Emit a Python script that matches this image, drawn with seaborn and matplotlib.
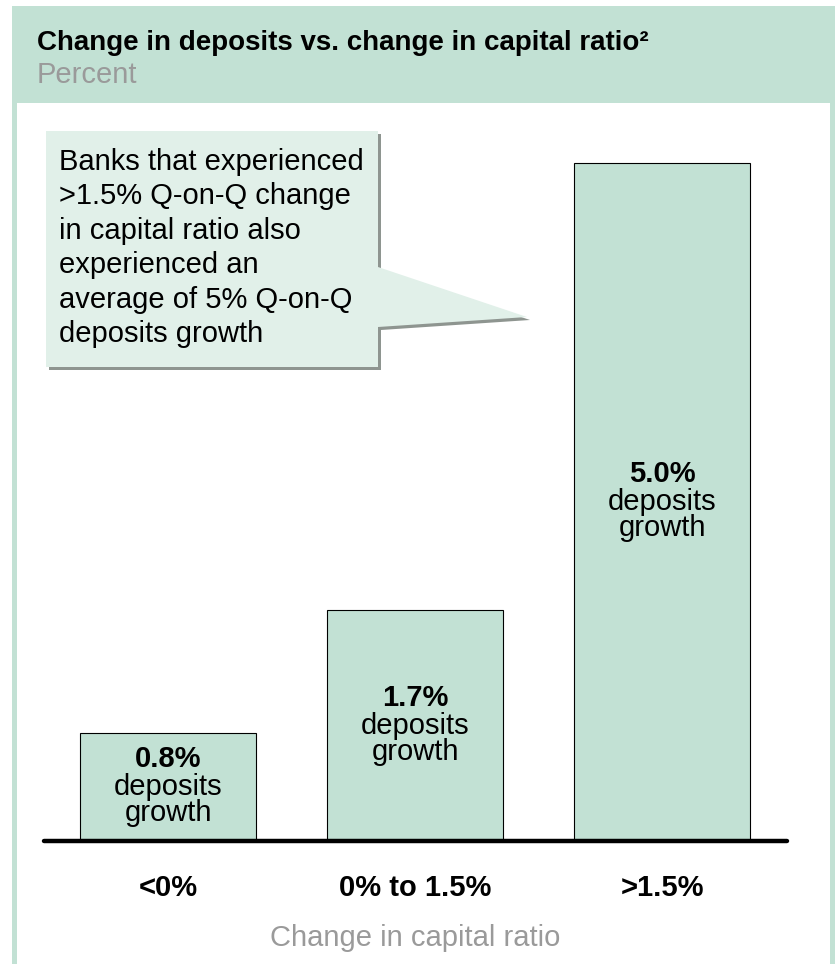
import matplotlib
matplotlib.use("Agg")
import matplotlib.pyplot as plt
from matplotlib.patches import Rectangle, Polygon
import seaborn as sns
import pandas as pd

# Data
categories = ["<0%", "0% to 1.5%", ">1.5%"]
deposit_growth = [0.8, 1.7, 5.0]
bar_labels = ["0.8%", "1.7%", "5.0%"]

title = "Change in deposits vs. change in capital ratio\u00b2"
subtitle = "Percent"
x_title = "Change in capital ratio"
callout_lines = [
    "Banks that experienced",
    ">1.5% Q-on-Q change",
    "in capital ratio also",
    "experienced an",
    "average of 5% Q-on-Q",
    "deposits growth",
]

GREEN = "#c2e1d4"
LIGHT_GREEN = "#e1f0e9"
GREY_TEXT = "#9a9a9a"

sns.set_theme(style="white")
plt.rcParams["font.family"] = ["Liberation Sans", "DejaVu Sans"]
plt.rcParams["text.color"] = "black"
plt.rcParams["xtick.color"] = "black"
plt.rcParams["axes.labelcolor"] = "black"

W, H = 835, 964
fig = plt.figure(figsize=(W / 100, H / 100), dpi=100)


def fx(px):
    return px / W


def fy(py):
    return 1 - py / H


# Panel background: green frame with a white body
fig.add_artist(Rectangle((fx(12), 0), fx(835) - fx(12), fy(6), transform=fig.transFigure,
                         facecolor=GREEN, edgecolor="none", zorder=0))
fig.add_artist(Rectangle((fx(17), 0), fx(830) - fx(17), fy(103), transform=fig.transFigure,
                         facecolor="white", edgecolor="none", zorder=0))

fig.text(fx(37), fy(43), title, fontsize=20, fontweight="bold", va="center", ha="left")
fig.text(fx(37), fy(75), subtitle, fontsize=21, color=GREY_TEXT, va="center", ha="left")

ax_left, ax_right, ax_bottom, ax_top = 43.7, 787, 841, 115
ax = fig.add_axes([fx(ax_left), fy(ax_bottom), fx(ax_right) - fx(ax_left), fy(ax_top) - fy(ax_bottom)])
ax.set_facecolor("none")

df = pd.DataFrame({"category": categories, "growth": deposit_growth})
sns.barplot(data=df, x="category", y="growth", color=GREEN, saturation=1,
            width=0.713, edgecolor="black", linewidth=0.8, ax=ax, zorder=2)

ax.set_xlim(-0.505, 2.505)
ax.set_ylim(0, (ax_bottom - ax_top) / 135.6)
ax.axhline(0, color="black", lw=3.2, zorder=3, clip_on=False, solid_capstyle="round")

for spine in ax.spines.values():
    spine.set_visible(False)
ax.set_yticks([])
ax.set_ylabel("")
ax.tick_params(axis="x", length=0, pad=23.4)
for lbl in ax.get_xticklabels():
    lbl.set_fontweight("bold")
    lbl.set_fontsize(21)
ax.set_xlabel(x_title, fontsize=21, color=GREY_TEXT, labelpad=16)

# Value labels inside each bar
for i, (v, lab) in enumerate(zip(deposit_growth, bar_labels)):
    ymid = v / 2
    ax.text(i, ymid, "deposits", ha="center", va="center", fontsize=21, zorder=4)
    ax.annotate(lab, (i, ymid), xytext=(0, 20), textcoords="offset points",
                ha="center", va="center", fontsize=21, fontweight="bold", zorder=4)
    ax.annotate("growth", (i, ymid), xytext=(0, -19), textcoords="offset points",
                ha="center", va="center", fontsize=21, zorder=4)

# Callout bubble pointing at the tallest bar
bubble = [(46, 131), (378, 131), (378, 267), (527, 317), (378, 327), (378, 367), (46, 367)]
shadow = [(x + 3, y + 3) for x, y in bubble]
fig.add_artist(Polygon([(fx(x), fy(y)) for x, y in shadow], closed=True, transform=fig.transFigure,
                       facecolor="#8e9590", edgecolor="none", zorder=5))
fig.add_artist(Polygon([(fx(x), fy(y)) for x, y in bubble], closed=True, transform=fig.transFigure,
                       facecolor=LIGHT_GREEN, edgecolor="none", zorder=6))
for k, line in enumerate(callout_lines):
    fig.text(fx(59), fy(162 + 34.4 * k), line, fontsize=21, ha="left", va="center", zorder=7)

fig.savefig("out.png", dpi=100)
